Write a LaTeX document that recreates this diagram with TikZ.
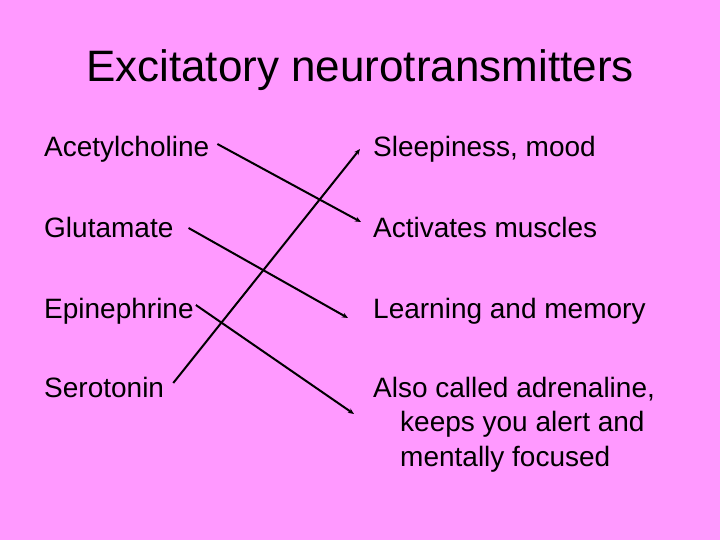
\documentclass[tikz,border=0pt]{standalone}
\usepackage{fontspec}
\setmainfont{Liberation Sans}
\usetikzlibrary{arrows.meta}
\definecolor{slidepink}{HTML}{FF99FF}
\tikzset{
  item/.style={anchor=base west, inner sep=0pt, font=\fontsize{28}{34.5}\selectfont, text=black},
  link/.style={draw=black, line width=2pt, -{Stealth[length=6pt,width=5pt]}}
}
\begin{document}
\begin{tikzpicture}[x=1pt,y=-1pt]
\fill[slidepink] (0,0) rectangle (720,540);
\useasboundingbox (0,0) rectangle (720,540);
\node[anchor=base, inner sep=0pt, font=\fontsize{44}{50}\selectfont] (title) at (360,82) {Excitatory neurotransmitters};
\node[item] (ach) at (44,157) {Acetylcholine};
\node[item] (glu) at (44,237) {Glutamate};
\node[item] (epi) at (44,318) {Epinephrine};
\node[item] (ser) at (44,397) {Serotonin};
\node[item] (sleep) at (373,157) {Sleepiness, mood};
\node[item] (act) at (373,237) {Activates muscles};
\node[item] (learn) at (373,318) {Learning and memory};
\node[item, align=left] (also) at (373,466) {Also called adrenaline,\\\hspace*{27pt}keeps you alert and\\\hspace*{27pt}mentally focused};
\draw[link] ([shift={(8,-13)}]ach.base east) -- ([shift={(-12,-15)}]act.base west);
\draw[link] ([shift={(15,-9)}]glu.base east) -- ([shift={(-25,0)}]learn.base west);
\draw[link] ([shift={(2,-13)}]epi.base east) -- ([shift={(-19,-52)}]also.base west);
\draw[link] ([shift={(9,-14)}]ser.base east) -- ([shift={(-13,-8)}]sleep.base west);
\end{tikzpicture}
\end{document}
